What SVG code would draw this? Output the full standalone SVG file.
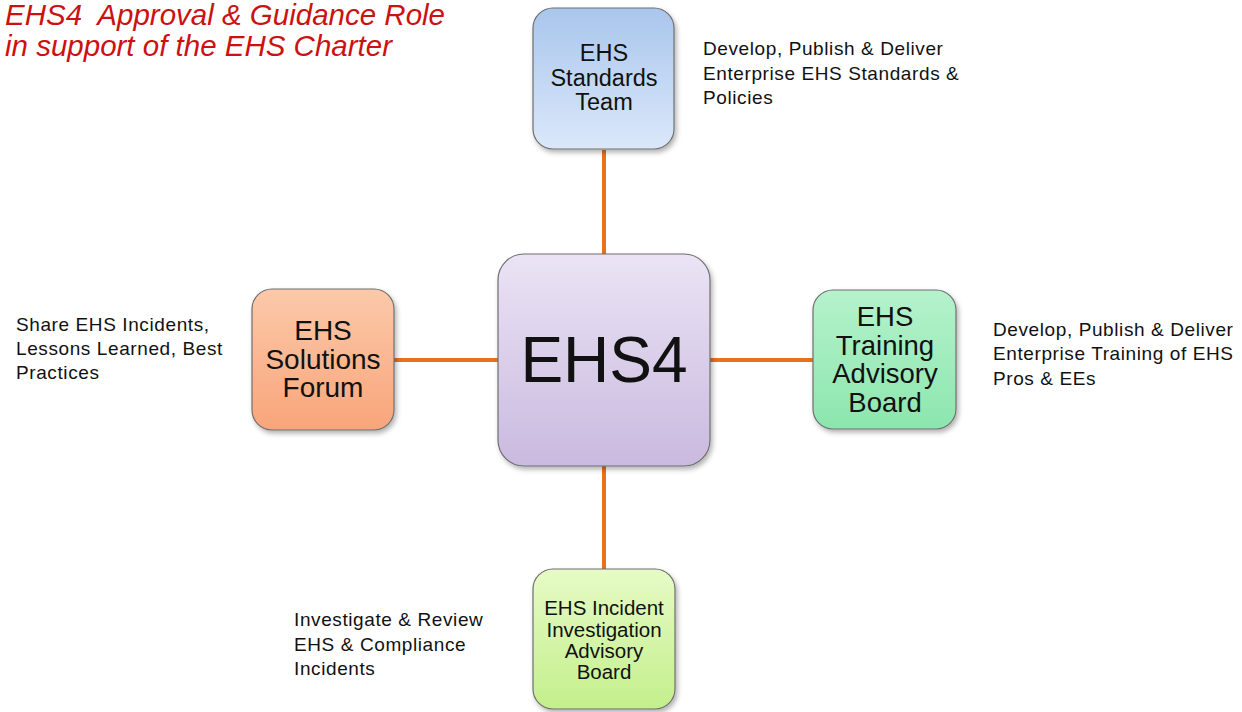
<svg xmlns="http://www.w3.org/2000/svg" width="1242" height="712" viewBox="0 0 1242 712">
<defs>
<linearGradient id="gBlue" x1="0" y1="0" x2="0" y2="1"><stop offset="0" stop-color="#a9c6ec"/><stop offset="1" stop-color="#dbe8fa"/></linearGradient>
<linearGradient id="gPurple" x1="0" y1="0" x2="0" y2="1"><stop offset="0" stop-color="#ebe3f5"/><stop offset="1" stop-color="#c9badf"/></linearGradient>
<linearGradient id="gOrange" x1="0" y1="0" x2="0" y2="1"><stop offset="0" stop-color="#fbc9aa"/><stop offset="1" stop-color="#f9a57a"/></linearGradient>
<linearGradient id="gGreen" x1="0" y1="0" x2="0" y2="1"><stop offset="0" stop-color="#b5f2cc"/><stop offset="1" stop-color="#8ce6ae"/></linearGradient>
<linearGradient id="gLime" x1="0" y1="0" x2="0" y2="1"><stop offset="0" stop-color="#e6fbc6"/><stop offset="1" stop-color="#c4ef8c"/></linearGradient>
<filter id="sh" x="-10%" y="-10%" width="130%" height="130%"><feDropShadow dx="2" dy="3" stdDeviation="2.5" flood-color="#000" flood-opacity="0.3"/></filter>
</defs>
<style>
.box{stroke:#6f6f6f;stroke-width:1.2;filter:url(#sh)}
.lbl{font-family:"Liberation Sans",Arial,sans-serif;fill:#111;text-anchor:middle}
.note{font-family:"Liberation Sans",Arial,sans-serif;fill:#111;font-size:19px;letter-spacing:0.6px}
.title{font-family:"Liberation Sans",Arial,sans-serif;fill:#cc1111;font-size:29.5px;font-style:italic}
.conn{stroke:#e8711b;stroke-width:4;fill:none}
</style>
<rect width="1242" height="712" fill="#ffffff"/>
<g id="title">
<text class="title" x="5" y="25" xml:space="preserve">EHS4  Approval &amp; Guidance Role</text>
<text class="title" x="5" y="56">in support of the EHS Charter</text>
</g>
<g id="connectors">
<line class="conn" x1="604" y1="150" x2="604" y2="254"/>
<line class="conn" x1="604" y1="466" x2="604" y2="569"/>
<line class="conn" x1="394" y1="360" x2="498" y2="360"/>
<line class="conn" x1="710" y1="360" x2="813" y2="360"/>
</g>
<g id="node-standards">
<rect class="box" x="533" y="8" width="141" height="141" rx="20" fill="url(#gBlue)"/>
<text class="lbl" font-size="23.5" x="604" y="61">EHS</text>
<text class="lbl" font-size="23.5" x="604" y="86">Standards</text>
<text class="lbl" font-size="23.5" x="604" y="110">Team</text>
</g>
<g id="node-ehs4">
<rect class="box" x="498" y="254" width="212" height="212" rx="26" fill="url(#gPurple)"/>
<text class="lbl" font-size="64" x="604" y="382">EHS4</text>
</g>
<g id="node-forum">
<rect class="box" x="252" y="289" width="142" height="141" rx="20" fill="url(#gOrange)"/>
<text class="lbl" font-size="28" x="323" y="340">EHS</text>
<text class="lbl" font-size="28" x="323" y="369">Solutions</text>
<text class="lbl" font-size="28" x="323" y="397">Forum</text>
</g>
<g id="node-training">
<rect class="box" x="813" y="290" width="143" height="139" rx="20" fill="url(#gGreen)"/>
<text class="lbl" font-size="27.5" x="885" y="326">EHS</text>
<text class="lbl" font-size="27.5" x="885" y="355">Training</text>
<text class="lbl" font-size="27.5" x="885" y="383">Advisory</text>
<text class="lbl" font-size="27.5" x="885" y="412">Board</text>
</g>
<g id="node-incident">
<rect class="box" x="533" y="569" width="142" height="140" rx="20" fill="url(#gLime)"/>
<text class="lbl" font-size="20.5" x="604" y="615">EHS Incident</text>
<text class="lbl" font-size="20.5" x="604" y="637">Investigation</text>
<text class="lbl" font-size="20.5" x="604" y="658">Advisory</text>
<text class="lbl" font-size="20.5" x="604" y="679">Board</text>
</g>
<g id="notes">
<text class="note" x="703" y="55">Develop, Publish &amp; Deliver</text>
<text class="note" x="703" y="80">Enterprise EHS Standards &amp;</text>
<text class="note" x="703" y="104">Policies</text>
<text class="note" x="16" y="331">Share EHS Incidents,</text>
<text class="note" x="16" y="355">Lessons Learned, Best</text>
<text class="note" x="16" y="379">Practices</text>
<text class="note" x="993" y="336">Develop, Publish &amp; Deliver</text>
<text class="note" x="993" y="360">Enterprise Training of EHS</text>
<text class="note" x="993" y="385">Pros &amp; EEs</text>
<text class="note" x="294" y="626">Investigate &amp; Review</text>
<text class="note" x="294" y="651">EHS &amp; Compliance</text>
<text class="note" x="294" y="675">Incidents</text>
</g>
</svg>
